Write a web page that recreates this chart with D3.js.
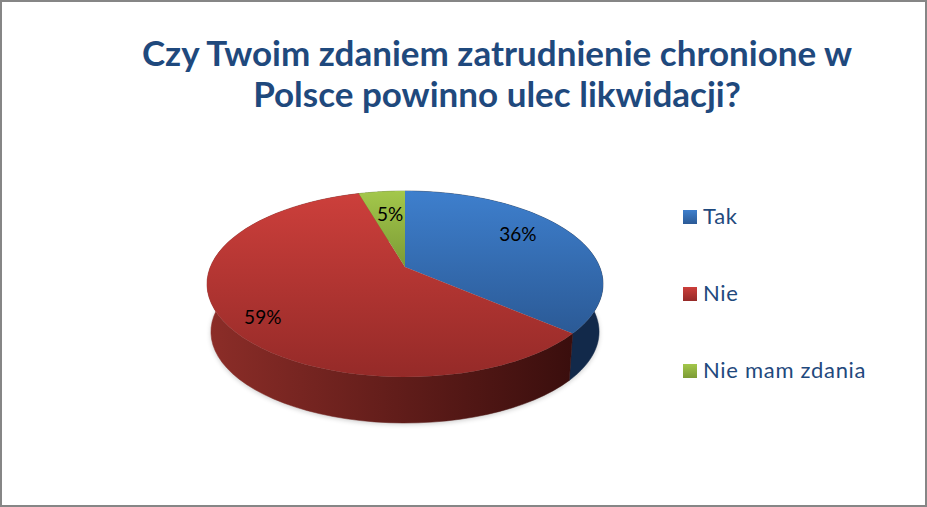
<!DOCTYPE html>
<html><head><meta charset="utf-8">
<script src="https://cdn.jsdelivr.net/npm/d3@7"></script>
<style>html,body{margin:0;padding:0;background:#fff}svg{display:block}</style>
</head><body><svg id="c" width="927" height="507"></svg>
<script>
const titleLines = ["Czy Twoim zdaniem zatrudnienie chronione w", "Polsce powinno ulec likwidacji?"];
const categories = ["Tak", "Nie", "Nie mam zdania"];
const values = [36.3, 59.2, 4.5];
const topColors = [["#3e7fcd", "#2b5a96"], ["#cc3f3b", "#952a28"], ["#a3c74b", "#7c9b35"]];
const sideStops = [["#12294a", "#12294a"], ["#8c2d28", "#3a0e0d"], ["#6d8a2e", "#4d6320"]];

const W = 927, H = 507;
const cx = 405, apexY = 267, R = 194.7, Hy = 89.9, k = 0.1828;
const bottomScale = 0.98, bottomApexY = 315.2;
const labelRadius = [0.67, 0.8, 0.6], labelDy = [-8, 9, -4];

const svg = d3.select("#c");
const defs = svg.append("defs");
svg.append("rect").attr("width", W).attr("height", H).attr("fill", "#fff");
svg.append("rect").attr("x", 1).attr("y", 1).attr("width", W - 2).attr("height", H - 2)
  .attr("fill", "none").attr("stroke", "#868686").attr("stroke-width", 2);

function project(a, r, scale, y0) {
  const u = r * Math.sin(a), v = -r * Math.cos(a), w = 1 - k * v;
  return [cx + scale * R * u / w, y0 + scale * Hy * v / w];
}
const topPt = (a, r = 1) => project(a, r, 1, apexY);
const botPt = (a) => project(a, 1, bottomScale, bottomApexY);
const line = d3.line();

const arcs = d3.pie().sort(null)(values);
const sampled = d => d3.range(0, 61).map(i => d.startAngle + (d.endAngle - d.startAngle) * i / 60);

categories.forEach((c, i) => {
  const g = defs.append("linearGradient").attr("id", "top" + i).attr("x1", 0).attr("x2", 0).attr("y1", 0).attr("y2", 1);
  g.append("stop").attr("offset", 0).attr("stop-color", topColors[i][0]);
  g.append("stop").attr("offset", 1).attr("stop-color", topColors[i][1]);
  const s = defs.append("linearGradient").attr("id", "side" + i).attr("gradientUnits", "userSpaceOnUse")
    .attr("x1", 207).attr("x2", 572).attr("y1", 0).attr("y2", 0);
  s.append("stop").attr("offset", 0).attr("stop-color", sideStops[i][0]);
  s.append("stop").attr("offset", 1).attr("stop-color", sideStops[i][1]);
});
defs.append("filter").attr("id", "blur").attr("x", "-10%").attr("y", "-10%").attr("width", "120%").attr("height", "120%")
  .append("feGaussianBlur").attr("stdDeviation", 2.5);

const full = d3.range(0, 121).map(i => i / 120 * 2 * Math.PI);
svg.append("path").attr("d", line(full.map(botPt)) + "Z")
  .attr("transform", "translate(0,1.5)")
  .attr("fill", "#000").attr("opacity", 0.2).attr("filter", "url(#blur)");

const chart = svg.append("g");
chart.selectAll("path.side").data(arcs).join("path").attr("class", "side")
  .attr("d", d => {
    const as = sampled(d);
    return line(as.map(a => topPt(a)).concat(as.slice().reverse().map(botPt))) + "Z";
  })
  .attr("fill", d => `url(#side${d.index})`)
  .attr("stroke", d => `url(#side${d.index})`).attr("stroke-width", 0.5);

chart.selectAll("path.top").data(arcs).join("path").attr("class", "top")
  .attr("d", d => line([[cx, apexY]].concat(sampled(d).map(a => topPt(a)))) + "Z")
  .attr("fill", d => `url(#top${d.index})`);

const font = "Lato, Carlito, 'Open Sans', sans-serif";
const titleY = [66, 107];
svg.selectAll("text.title").data(titleLines).join("text").attr("class", "title")
  .attr("x", 497).attr("y", (d, i) => titleY[i]).attr("text-anchor", "middle")
  .attr("font-family", font).attr("font-weight", 700).attr("font-size", 35).attr("fill", "#1f497d")
  .text(d => d);

svg.selectAll("text.lab").data(arcs).join("text").attr("class", "lab")
  .attr("x", d => topPt((d.startAngle + d.endAngle) / 2, labelRadius[d.index])[0])
  .attr("y", d => topPt((d.startAngle + d.endAngle) / 2, labelRadius[d.index])[1] + labelDy[d.index] + 6)
  .attr("text-anchor", "middle").attr("font-family", font).attr("font-size", 19).attr("fill", "#000")
  .text(d => Math.round(d.value) + "%");

const legendY = d3.scalePoint().domain(categories).range([217, 371]);
const lg = svg.selectAll("g.leg").data(categories).join("g").attr("class", "leg")
  .attr("transform", d => `translate(683,${legendY(d)})`);
lg.append("rect").attr("y", -7).attr("width", 14).attr("height", 14).attr("fill", (d, i) => `url(#top${i})`);
lg.append("text").attr("x", 20).attr("y", 7).attr("font-family", font).attr("font-size", 22)
  .attr("letter-spacing", 0.7).attr("fill", "#1f497d").text(d => d);
</script></body></html>
